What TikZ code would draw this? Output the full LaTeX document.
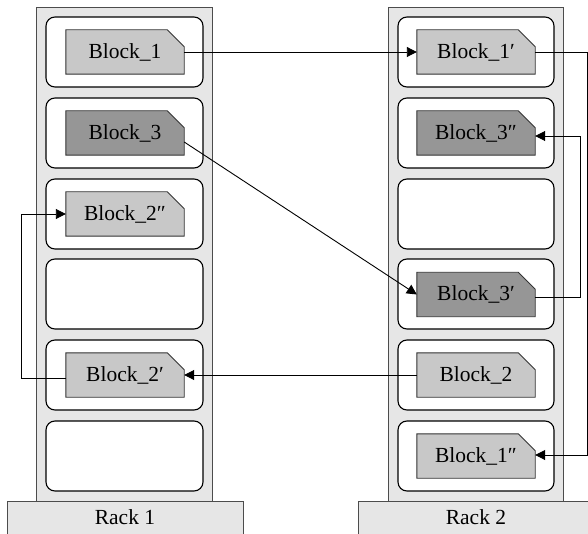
\documentclass[tikz,border=0pt]{standalone}
\usepackage{fontspec}
\setmainfont{Liberation Serif}
\usetikzlibrary{arrows.meta,calc}
\definecolor{rackgray}{HTML}{E6E6E6}
\definecolor{lightblk}{HTML}{C8C8C8}
\definecolor{darkblk}{HTML}{969696}
\tikzset{
  rackframe/.style={fill=rackgray,draw=black!70,line width=0.8pt},
  rackbase/.style={fill=rackgray,draw=black!70,line width=0.8pt},
  slotbox/.style={fill=white,draw=black,line width=1.1pt,rounded corners=9pt},
  lbl/.style={font=\fontsize{21.5}{25}\selectfont},
  blkanchor/.style={rectangle,minimum width=118pt,minimum height=44pt,inner sep=0pt,lbl},
  conn/.style={draw=black,line width=0.9pt},
  arr/.style={conn,-{Triangle[length=10pt,width=10pt]}},
}
\newcommand{\blockdraw}[5]{%
  \node[blkanchor] (#1) at (#2,#3) {};
  \draw[fill=#4,draw=black!80,line width=0.9pt] (#1.south west) -- (#1.north west) -- ([xshift=-17pt]#1.north east) -- ([yshift=-17pt]#1.north east) -- (#1.south east) -- cycle;
  \node[blkanchor] at (#1.center) {#5};
}
\begin{document}
\begin{tikzpicture}[x=1pt,y=-1pt]
\useasboundingbox (0,0) rectangle (588,534);
% racks
\draw[rackframe] (36.5,7) rectangle (212.5,501);
\draw[rackframe] (388,7) rectangle (563,501);
\node[rackbase,minimum width=236pt,minimum height=40pt,inner sep=0pt,anchor=north] (base1) at (125,501) {};
\node[rackbase,minimum width=236pt,minimum height=40pt,inner sep=0pt,anchor=north] (base2) at (476,501) {};
\node[lbl] (lab1) at (125,517) {Rack 1};
\node[lbl] (lab2) at (476,517) {Rack 2};
% slots
\foreach \t in {17,98,179,259,340,421}{
  \draw[slotbox] (46,\t) rectangle (203,\t+70);
  \draw[slotbox] (398,\t) rectangle (554,\t+70);
}
% blocks
\blockdraw{b1}{125}{52}{lightblk}{Block\_1}
\blockdraw{b3}{125}{133}{darkblk}{Block\_3}
\blockdraw{b2pp}{125}{214}{lightblk}{Block\_2″}
\blockdraw{b2p}{125}{375}{lightblk}{Block\_2′}
\blockdraw{b1p}{476}{52}{lightblk}{Block\_1′}
\blockdraw{b3pp}{476}{133}{darkblk}{Block\_3″}
\blockdraw{b3p}{476}{294.5}{darkblk}{Block\_3′}
\blockdraw{b2}{476}{375}{lightblk}{Block\_2}
\blockdraw{b1pp}{476}{456}{lightblk}{Block\_1″}
% routing coordinates
\coordinate (rx1) at (587,0);
\coordinate (rx2) at (580,0);
\coordinate (lx) at (21,0);
% connectors
\draw[arr] (b1.east) -- (b1p.west);
\draw[arr] (b1p.east) -- (b1p.east -| rx1) |- ([yshift=1pt]b1pp.east);
\draw[arr] ([yshift=-9pt]b3.east) -- (b3p.west);
\draw[arr] ([yshift=-3pt]b3p.east) -- ([yshift=-3pt]b3p.east -| rx2) |- ([yshift=-3pt]b3pp.east);
\draw[arr] (b2.west) -- (b2p.east);
\draw[arr] ([yshift=-3pt]b2p.west) -- ([yshift=-3pt]b2p.west -| lx) |- (b2pp.west);
\end{tikzpicture}
\end{document}
